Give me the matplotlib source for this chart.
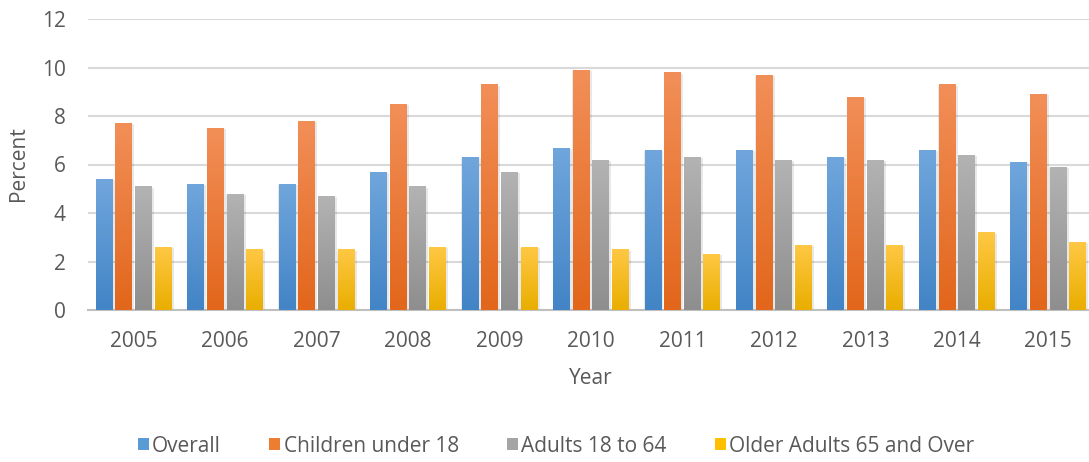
import numpy as np
import matplotlib

matplotlib.use("Agg")
import matplotlib.pyplot as plt
from matplotlib.colors import LinearSegmentedColormap
from matplotlib.patches import Patch

years = ["2005", "2006", "2007", "2008", "2009", "2010",
         "2011", "2012", "2013", "2014", "2015"]
overall = [5.4, 5.2, 5.2, 5.7, 6.3, 6.7, 6.6, 6.6, 6.3, 6.6, 6.1]
children = [7.7, 7.5, 7.8, 8.5, 9.3, 9.9, 9.8, 9.7, 8.8, 9.3, 8.9]
adults = [5.1, 4.8, 4.7, 5.1, 5.7, 6.2, 6.3, 6.2, 6.2, 6.4, 5.9]
older = [2.6, 2.5, 2.5, 2.6, 2.6, 2.5, 2.3, 2.7, 2.7, 3.2, 2.8]

# name, values, gradient top, gradient bottom, legend swatch
series = [
    ("Overall", overall, "#70a6dc", "#4284c6", "#5b9bd5"),
    ("Children under 18", children, "#f28f58", "#e2661b", "#ed7d31"),
    ("Adults 18 to 64", adults, "#b3b3b3", "#8e8e8e", "#a5a5a5"),
    ("Older Adults 65 and Over", older, "#ffc844", "#e9ae00", "#ffc000"),
]

plt.rcParams["font.family"] = ["Open Sans", "DejaVu Sans"]
text_col = "#595959"
fs = 15

fig = plt.figure(figsize=(10.89, 4.62), dpi=100)
ax = fig.add_axes([88 / 1089, 1 - 310 / 462, 1006 / 1089, 291 / 462])

x = np.arange(len(years))
step, width = 0.215, 0.185
grad = np.linspace(0, 1, 256).reshape(-1, 1)

for i, (name, vals, top, bot, _) in enumerate(series):
    cmap = LinearSegmentedColormap.from_list(name, [bot, top])
    xs = x + (i - 1.5) * step
    # soft shadow behind each bar
    ax.bar(xs + 0.01, vals, width + 0.025, bottom=-0.05, color="#000000",
           alpha=0.09, zorder=2, linewidth=0)
    bars = ax.bar(xs, vals, width, color="none", zorder=3, linewidth=0)
    for b in bars:
        x0, h = b.get_x(), b.get_height()
        im = ax.imshow(grad, cmap=cmap, aspect="auto", origin="lower",
                       extent=[x0, x0 + width, 0, h], zorder=3)
        im.set_clip_path(b)

ax.set_xlim(-0.5, len(years) - 0.5)
ax.set_ylim(0, 12)
ax.set_yticks(range(0, 13, 2))
ax.set_xticks(x)
ax.set_xticklabels(years)
ax.yaxis.grid(True, color="#d9d9d9", linewidth=1.5, zorder=0)
ax.set_axisbelow(True)
for s in ["top", "right", "left"]:
    ax.spines[s].set_visible(False)
ax.spines["bottom"].set_color("#bfbfbf")
ax.spines["bottom"].set_linewidth(1.5)
ax.tick_params(length=0, labelsize=fs, colors=text_col)
ax.tick_params(axis="x", pad=15)
ax.tick_params(axis="y", pad=16)

fig.text(591 / 1089, 1 - 378 / 462, "Year", fontsize=fs, color=text_col,
         ha="center", va="center")
fig.text(18 / 1089, 1 - 164 / 462, "Percent", fontsize=fs, color=text_col,
         ha="center", va="center", rotation=90)

handles = [Patch(facecolor=s[4], label=s[0]) for s in series]
fig.legend(handles=handles, loc="center", bbox_to_anchor=(556 / 1089, 1 - 446 / 462),
           ncol=4, frameon=False, fontsize=fs, handlelength=0.55, handleheight=0.55,
           handletextpad=0.15, columnspacing=2.3, labelcolor=text_col)

fig.savefig("out.png", dpi=100)
